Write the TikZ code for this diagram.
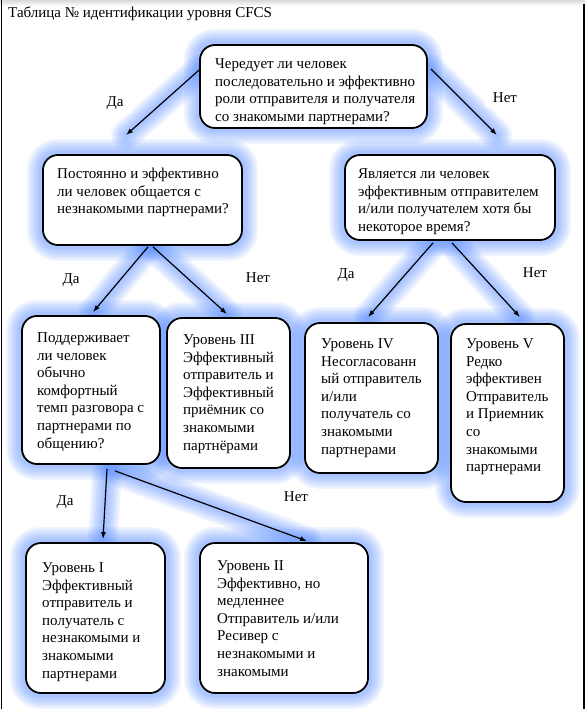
\documentclass[tikz,border=0pt]{standalone}
\usepackage{fontspec}
\setmainfont{Liberation Serif}
\usetikzlibrary{arrows.meta,calc}
\pgfdeclarelayer{back}
\pgfdeclarelayer{bg}
\pgfsetlayers{back,bg,main}
\definecolor{glowc}{RGB}{85,140,255}
\tikzset{
  box/.style={draw=black, line width=1.8pt, fill=white, rounded corners=15pt, inner sep=0pt},
  txt/.style={anchor=north west, align=left, inner sep=0pt, font=\fontsize{15}{17.6}\selectfont},
  lbl/.style={fill=white, inner xsep=8pt, inner ysep=4pt, font=\fontsize{15}{17.6}\selectfont},
  arr/.style={draw=black, line width=1.2pt, -{Latex[length=7pt,width=5pt]}},
  glw/.style={draw=glowc, line width=#1, opacity=0.09, line cap=round, line join=round},
}
\begin{document}
\begin{tikzpicture}[x=1pt,y=-1pt]
\useasboundingbox (0,0) rectangle (585,709);
\begin{pgfonlayer}{back}
\fill[white] (0,0) rectangle (585,709);
\shade[top color=black!15, bottom color=white] (0,0) rectangle (585,6);
\end{pgfonlayer}
% frame
\draw[line width=1.5pt] (1.5,0) -- (1.5,709);
\draw[line width=2pt] (583.5,4) -- (583.5,709);
\node[txt, anchor=base west] (title) at (8,18) {Таблица № идентификации уровня CFCS};

% boxes
\node[box, minimum width=227pt, minimum height=83pt] (a) at (313.5,86.5) {};
\node[box, minimum width=199pt, minimum height=90pt] (b) at (142.5,200) {};
\node[box, minimum width=210pt, minimum height=85pt] (c) at (450,197.5) {};
\node[box, minimum width=138pt, minimum height=148pt] (d) at (91,390) {};
\node[box, minimum width=123pt, minimum height=150pt] (e) at (228.5,393) {};
\node[box, minimum width=133pt, minimum height=150pt] (f) at (371.5,398) {};
\node[box, minimum width=113pt, minimum height=178pt] (g) at (507.5,413) {};
\node[box, minimum width=139pt, minimum height=150pt] (h) at (95.5,618) {};
\node[box, minimum width=168pt, minimum height=150pt] (i) at (284,618) {};

% texts
\node[txt] (ta) at (215,56) {\strut Чередует ли человек\\последовательно и эффективно\\роли отправителя и получателя\\со знакомыми партнерами?};
\node[txt] (tb) at (57,166) {\strut Постоянно и эффективно\\ли человек общается с\\незнакомыми партнерами?};
\node[txt] (tc) at (358,166) {\strut Является ли человек\\эффективным отправителем\\и/или получателем хотя бы\\некоторое время?};
\node[txt] (td) at (37,330) {\strut Поддерживает\\ли человек\\обычно\\комфортный\\темп разговора с\\партнерами по\\общению?};
\node[txt] (te) at (183,332) {\strut Уровень III\\Эффективный\\отправитель и\\Эффективный\\приёмник со\\знакомыми\\партнёрами};
\node[txt] (tf) at (321,336) {\strut Уровень IV\\Несогласованн\\ый отправитель\\и/или\\получатель со\\знакомыми\\партнерами};
\node[txt] (tg) at (466,336) {\strut Уровень V\\Редко\\эффективен\\Отправитель\\и Приемник\\со\\знакомыми\\партнерами};
\node[txt] (th) at (42,560) {\strut Уровень I\\Эффективный\\отправитель и\\получатель с\\незнакомыми и\\знакомыми\\партнерами};
\node[txt] (ti) at (217,558) {\strut Уровень II\\Эффективно, но\\медленнее\\Отправитель и/или\\Ресивер с\\незнакомыми и\\знакомыми};

% connector end points
\coordinate (ab1) at ($(a.west)+(0,-16.5)$);
\coordinate (ab2) at ($(b.north)+(-16.5,-19)$);
\coordinate (ac1) at ($(a.east)+(3,-17.5)$);
\coordinate (ac2) at ($(c.north)+(47,-19)$);
\coordinate (bd1) at ($(b.south)+(5.5,1)$);
\coordinate (bd2) at ($(d.north)+(2,-3)$);
\coordinate (be1) at ($(b.south)+(10.5,1)$);
\coordinate (be2) at ($(e.north)+(-1.5,-3)$);
\coordinate (cf1) at ($(c.south)+(-17,2)$);
\coordinate (cf2) at ($(f.north)+(-3.5,-5)$);
\coordinate (cg1) at ($(c.south)+(2,2)$);
\coordinate (cg2) at ($(g.north)+(12.5,-6)$);
\coordinate (dh1) at ($(d.south)+(16,4)$);
\coordinate (dh2) at ($(h.north)+(7.5,-3)$);
\coordinate (di1) at ($(d.south)+(24,6)$);
\coordinate (di2) at ($(i.north)+(23,-1)$);

% arrows
\draw[arr] (ab1) -- (ab2);
\draw[arr] (ac1) -- (ac2);
\draw[arr] (bd1) -- (bd2);
\draw[arr] (be1) -- (be2);
\draw[arr] (cf1) -- (cf2);
\draw[arr] (cg1) -- (cg2);
\draw[arr] (dh1) -- (dh2);
\draw[arr] (di1) -- (di2);

% glow
\begin{pgfonlayer}{bg}
\foreach \w in {30pt,26pt,22pt,18pt,14pt,10pt,6pt}{
  \foreach \n in {a,b,c,d,e,f,g,h,i}{
    \draw[glw=\w, rounded corners=15pt] (\n.south west) rectangle (\n.north east);
  }
  \draw[glw=\w] (ab1) -- (ab2);
  \draw[glw=\w] (ac1) -- (ac2);
  \draw[glw=\w] (bd1) -- (bd2);
  \draw[glw=\w] (be1) -- (be2);
  \draw[glw=\w] (cf1) -- (cf2);
  \draw[glw=\w] (cg1) -- (cg2);
  \draw[glw=\w] (dh1) -- (dh2);
  \draw[glw=\w] (di1) -- (di2);
}
\end{pgfonlayer}

% labels
\node[lbl] (l1) at (115,103) {Да};
\node[lbl] (l2) at (505,98) {Нет};
\node[lbl] (l3) at (71,280) {Да};
\node[lbl] (l4) at (258,278) {Нет};
\node[lbl] (l5) at (346,275) {Да};
\node[lbl] (l6) at (535,273) {Нет};
\node[lbl] (l7) at (65,502) {Да};
\node[lbl] (l8) at (296,497) {Нет};
\end{tikzpicture}
\end{document}
